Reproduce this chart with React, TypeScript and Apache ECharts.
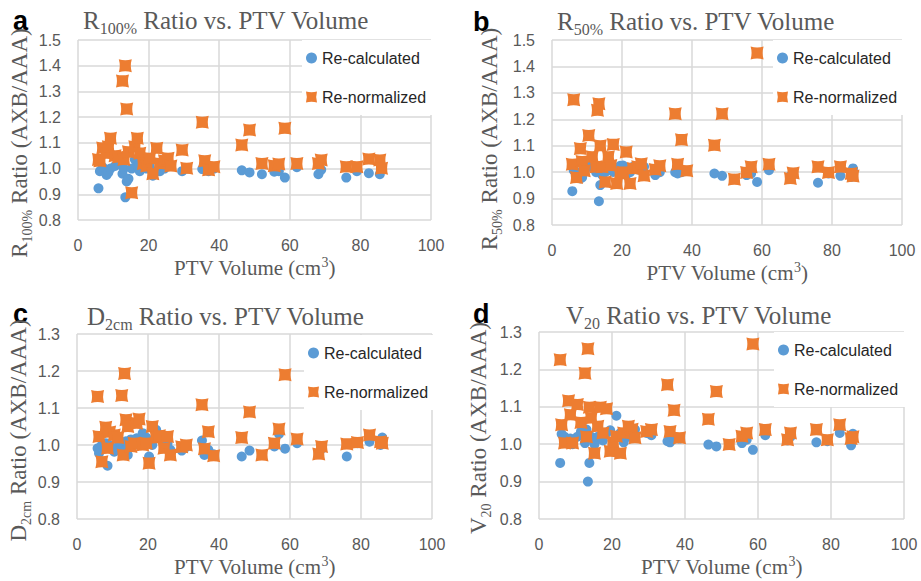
import React, { useEffect, useRef } from "react";
import * as echarts from "echarts";

// PTV volumes (cm³), shared by all four panels
const volumes = [5.8, 6.2, 7.0, 8.1, 8.6, 9.2, 10.5, 11.5, 12.6, 13.0, 13.4, 13.8, 14.3, 15.2, 16.1, 16.8, 17.5, 18.5, 19.5, 20.3, 21.2, 22.3, 23.2, 24.5, 25.5, 26.3, 29.5, 30.8, 35.2, 35.9, 37.0, 38.5, 46.4, 48.6, 52.1, 55.6, 56.9, 58.6, 62.0, 68.1, 68.9, 76.0, 79.0, 82.4, 85.5, 86.0];

// Panel a: R100%
const r100Recalc = [0.923, 0.99, 1.005, 0.975, 0.985, 1.0, 1.01, 1.02, 0.98, 1.0, 0.888, 0.95, 0.96, 1.0, 1.035, 1.01, 0.99, 1.02, 1.0, 1.01, 0.972, 0.99, 0.99, 1.0, 1.015, 1.01, 0.99, 1.0, 0.998, 1.0, 0.99, 1.0, 0.993, 0.985, 0.978, 0.988, 0.99, 0.965, 1.005, 0.978, 0.995, 0.965, 0.99, 0.982, 0.978, 1.005];
const r100Renorm = [1.035, 1.03, 1.08, 1.06, 1.085, 1.118, 1.05, 1.045, 1.341, 1.035, 1.4, 1.232, 1.065, 0.906, 1.085, 1.118, 1.06, 1.02, 1.01, 1.04, 0.98, 1.079, 1.02, 1.03, 1.04, 1.01, 1.072, 1.001, 1.18, 1.03, 0.995, 1.007, 1.092, 1.15, 1.02, 1.011, 1.018, 1.157, 1.02, 1.02, 1.033, 1.007, 1.007, 1.037, 1.033, 1.001];

// Panel b: R50%
const r50Recalc = [0.928, 1.007, 1.0, 0.976, 0.98, 1.01, 1.02, 1.026, 1.0, 1.01, 0.89, 0.951, 0.99, 1.0, 1.02, 1.02, 1.001, 1.01, 1.024, 1.025, 0.99, 1.0, 1.02, 1.01, 1.02, 1.02, 0.989, 1.0, 1.0, 0.995, 1.0, 1.005, 0.995, 0.986, 0.975, 0.989, 0.995, 0.963, 1.007, 0.985, 0.99, 0.96, 0.995, 0.986, 0.982, 1.014];
const r50Renorm = [1.03, 1.274, 0.98, 1.089, 1.04, 1.005, 1.139, 1.058, 1.02, 1.234, 1.259, 1.1, 1.02, 0.963, 1.058, 1.025, 1.105, 0.957, 0.995, 1.0, 1.076, 0.957, 1.014, 1.02, 1.032, 0.986, 1.01, 1.024, 1.221, 1.03, 1.123, 1.005, 1.102, 1.221, 0.973, 0.999, 1.02, 1.451, 1.03, 0.976, 0.997, 1.02, 0.999, 1.02, 0.995, 0.985];

// Panel c: D2cm
const d2cmRecalc = [0.991, 0.978, 1.0, 1.005, 0.944, 1.0, 0.982, 0.995, 1.0, 1.0, 0.985, 1.01, 0.973, 1.015, 1.0, 1.018, 1.005, 1.032, 1.02, 0.969, 1.0, 1.041, 1.02, 1.0, 1.005, 0.987, 0.985, 0.995, 1.012, 0.973, 0.987, 0.975, 0.969, 0.985, 0.973, 0.996, 1.03, 0.99, 1.005, 0.975, 0.99, 0.969, 1.005, 1.009, 1.0, 1.02];
const d2cmRenorm = [1.131, 1.023, 0.955, 1.048, 0.991, 1.035, 1.027, 1.02, 1.134, 0.973, 1.193, 1.068, 1.05, 0.996, 1.005, 1.059, 1.07, 1.0, 1.005, 0.951, 1.05, 1.02, 1.025, 0.991, 1.023, 0.973, 0.995, 1.0, 1.109, 0.99, 1.036, 0.971, 1.02, 1.089, 0.973, 1.005, 1.043, 1.19, 1.016, 0.976, 0.996, 1.003, 1.007, 1.027, 1.009, 1.005];

// Panel d: V20
const v20Recalc = [0.95, 1.027, 1.02, 1.01, 1.015, 1.0, 1.02, 1.034, 1.003, 1.039, 0.9, 0.95, 1.02, 1.0, 1.02, 1.021, 1.01, 1.03, 1.037, 1.0, 1.076, 1.03, 1.005, 1.02, 1.03, 1.039, 1.03, 1.024, 1.008, 1.005, 1.015, 1.015, 0.999, 0.994, 0.998, 1.003, 1.012, 0.985, 1.024, 1.01, 1.02, 1.005, 1.008, 1.03, 0.997, 1.028];
const v20Renorm = [1.226, 1.052, 1.003, 1.116, 1.079, 1.003, 1.106, 1.058, 1.19, 1.02, 1.255, 1.099, 1.07, 0.976, 1.048, 1.099, 1.03, 1.095, 0.981, 1.005, 1.021, 0.976, 1.03, 1.048, 1.04, 1.017, 1.034, 1.039, 1.159, 1.034, 1.091, 1.017, 1.067, 1.141, 0.999, 1.021, 1.03, 1.268, 1.039, 1.012, 1.03, 1.039, 1.012, 1.052, 1.015, 1.02];

const seriesNames = ["Re-calculated", "Re-normalized"];
const xTicks = { min: 0, max: 100, interval: 20 };
const panelLetters = ["a", "b", "c", "d"];
const mainSymbols = ["R", "R", "D", "V"];
const subSymbols = ["100%", "50%", "2cm", "20"];
const yRanges = [
  [0.8, 1.5],
  [0.8, 1.5],
  [0.8, 1.3],
  [0.8, 1.3],
];

const BLUE = "#5B9BD5";
const ORANGE = "#ED7D31";
const GRAY = "#595959";
const GRID = "#d9d9d9";
const SERIF = "'Liberation Serif', 'Times New Roman', serif";
const SANS = "'Liberation Sans', Arial, sans-serif";
const SQUARE = "path://M0,0Q6,1.8 12,0Q10.2,6 12,12Q6,10.2 0,12Q1.8,6 0,0Z";

export default function App() {
  const ref = useRef<HTMLDivElement>(null);

  useEffect(() => {
    if (!ref.current) return;
    const chart = echarts.init(ref.current, undefined, { renderer: "svg" });

    const recalc = [r100Recalc, r50Recalc, d2cmRecalc, v20Recalc];
    const renorm = [r100Renorm, r50Renorm, d2cmRenorm, v20Renorm];

    const grids = [
      { left: 78, top: 40, width: 353, height: 180 },
      { left: 552, top: 40, width: 350, height: 185 },
      { left: 77, top: 334, width: 355, height: 185 },
      { left: 539, top: 332, width: 365, height: 187 },
    ];
    const titlePos = [
      { left: 83, top: 5 },
      { left: 557, top: 6 },
      { left: 87, top: 301 },
      { left: 566, top: 300 },
    ];
    const letterPos = [
      { x: 13, y: 21 },
      { x: 473, y: 22 },
      { x: 13, y: 314 },
      { x: 473, y: 314 },
    ];
    const legendPos = [
      { left: 302, top: 40 },
      { left: 773, top: 40 },
      { left: 304, top: 335 },
      { left: 774, top: 332 },
    ];
    const yNameGap = [44, 48, 44, 46];
    const yNameShift = [26, 13, 8, 5];

    const serifRich = (main: number, sub: number, lh: number) => ({
      m: { fontFamily: SERIF, fontSize: main, fontWeight: "normal", color: GRAY, lineHeight: lh },
      s: { fontFamily: SERIF, fontSize: sub, fontWeight: "normal", color: GRAY, lineHeight: sub, verticalAlign: "bottom" },
      sup: { fontFamily: SERIF, fontSize: 14, fontWeight: "normal", color: GRAY, lineHeight: 17, verticalAlign: "top" },
    });

    const option: any = {
      animation: false,
      backgroundColor: "#ffffff",
      title: mainSymbols.map((m, i) => ({
        text: `{m|${m}}{s|${subSymbols[i]}}{m| Ratio vs. PTV Volume}`,
        left: titlePos[i].left,
        top: titlePos[i].top,
        padding: 0,
        textStyle: { fontWeight: "normal", rich: serifRich(25, 16, 31) },
      })),
      grid: grids,
      legend: legendPos.map((p) => ({
        orient: "vertical",
        left: p.left,
        top: p.top,
        padding: [10, 14, 10, 4],
        backgroundColor: "#ffffff",
        itemGap: 23,
        itemWidth: 11,
        itemHeight: 11,
        textStyle: { fontFamily: SANS, fontSize: 16, color: "#262626", lineHeight: 16 },
        data: [
          { name: seriesNames[0], icon: "circle" },
          { name: seriesNames[1], icon: SQUARE },
        ],
      })),
      xAxis: grids.map((_, i) => ({
        type: "value",
        gridIndex: i,
        min: xTicks.min,
        max: xTicks.max,
        interval: xTicks.interval,
        name: "{m|PTV Volume (cm}{sup|3}{m|)}",
        nameLocation: "middle",
        nameGap: 35,
        nameTextStyle: { rich: serifRich(21, 13, 25) },
        axisLine: { show: false },
        axisTick: { show: false },
        axisLabel: { fontFamily: SANS, fontSize: 16, color: GRAY, margin: 17 },
        splitLine: { show: true, lineStyle: { color: GRID, width: 1.5 } },
      })),
      yAxis: grids.map((_, i) => ({
        type: "value",
        gridIndex: i,
        min: yRanges[i][0],
        max: yRanges[i][1],
        interval: 0.1,
        name: `{m|${mainSymbols[i]}}{s|${subSymbols[i]}}{m| Ratio (AXB/AAA)}`,
        nameLocation: "middle",
        nameRotate: 90,
        nameGap: yNameGap[i],
        nameTextStyle: {
          rich: serifRich(23, 14, 30),
          padding: [0, yNameShift[i], 0, 0],
        },
        axisLine: { show: false },
        axisTick: { show: false },
        axisLabel: {
          fontFamily: SANS,
          fontSize: 16,
          color: GRAY,
          margin: 17,
          formatter: (v: number) => v.toFixed(1),
        },
        splitLine: { show: true, lineStyle: { color: GRID, width: 1.5 } },
      })),
      graphic: panelLetters.map((l, i) => ({
        type: "text",
        x: letterPos[i].x,
        y: letterPos[i].y,
        style: {
          text: l,
          font: `bold 27px ${SANS}`,
          fill: "#000000",
          verticalAlign: "middle",
        },
      })),
      series: [] as any[],
    };

    for (let i = 0; i < 4; i++) {
      option.series.push({
        name: seriesNames[0],
        type: "scatter",
        xAxisIndex: i,
        yAxisIndex: i,
        symbol: "circle",
        symbolSize: 10,
        itemStyle: { color: BLUE, opacity: 1 },
        data: volumes.map((v, k) => [v, recalc[i][k]]),
      });
    }
    for (let i = 0; i < 4; i++) {
      option.series.push({
        name: seriesNames[1],
        type: "scatter",
        xAxisIndex: i,
        yAxisIndex: i,
        symbol: SQUARE,
        symbolSize: 13,
        itemStyle: { color: ORANGE, opacity: 1 },
        data: volumes.map((v, k) => [v, renorm[i][k]]),
      });
    }

    chart.setOption(option);
    return () => chart.dispose();
  }, []);

  return (
    <div
      ref={ref}
      style={{ position: "fixed", left: 0, top: 0, width: 921, height: 581, background: "#fff" }}
    />
  );
}
